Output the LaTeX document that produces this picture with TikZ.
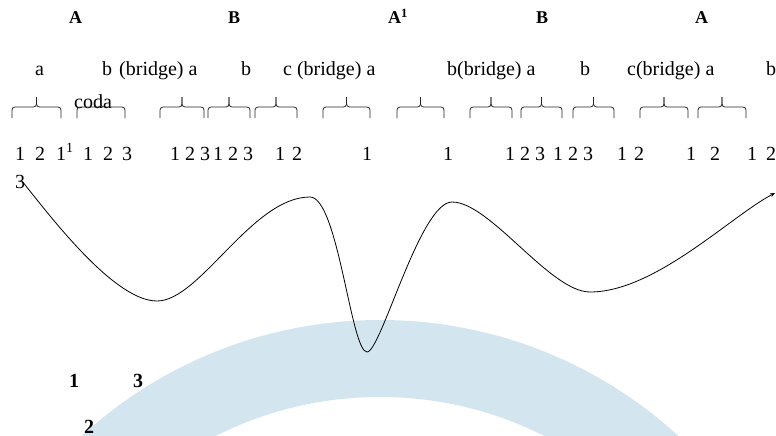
\documentclass[tikz,border=0pt]{standalone}
\usepackage{fontspec}
\setmainfont{Liberation Serif}
\usetikzlibrary{arrows.meta}
\definecolor{bandblue}{RGB}{211,230,240}
\tikzset{
  reg/.style={inner sep=0pt, anchor=base west, font=\fontsize{20}{24}\selectfont},
  bld/.style={inner sep=0pt, anchor=base west, font=\fontsize{18}{22}\selectfont\bfseries},
  bldbig/.style={inner sep=0pt, anchor=base west, font=\fontsize{20}{24}\selectfont\bfseries},
  bracestyle/.style={draw=black!85, line width=0.8pt, rounded corners=3pt},
  wave/.style={draw=black, line width=0.8pt, -{Stealth[length=5pt,width=4pt]}}
}
\begin{document}
\begin{tikzpicture}[x=1pt,y=-1pt]
\useasboundingbox (0,0) rectangle (776,436);
% blue band
\begin{scope}
\clip (0,0) rectangle (776,436);
\fill[bandblue, even odd rule] (380,762) circle[radius=442] (380,762) circle[radius=365];
\end{scope}
% top labels
\node[bld] (tA1) at (69,24) {A};
\node[bld] (tB1) at (228,24) {B};
\node[bld] (tA2) at (388,24) {A\textsuperscript{1}};
\node[bld] (tB2) at (536,24) {B};
\node[bld] (tA3) at (695,24) {A};
% section labels
\node[reg] (s1) at (35,75) {a};
\node[reg] (s2) at (102,75) {b};
\node[reg] (s3) at (119,75) {(bridge) a};
\node[reg] (s4) at (241,75) {b};
\node[reg] (s5) at (283,75) {c (bridge) a};
\node[reg] (s6) at (447,75) {b(bridge) a};
\node[reg] (s7) at (580,75) {b};
\node[reg] (s8) at (627,75) {c(bridge) a};
\node[reg] (s9) at (766,75) {b};
\node[reg] (coda) at (74,108) {coda};
% braces
\foreach \a/\b in {12/61,77/125,160/204,208/250,255/297,323/370,397/444,470/512,521/562,573/614,640/688,698/746}{
  \pgfmathsetmacro{\m}{(\a+\b)/2}
  \draw[bracestyle] (\a,118) -- (\a,107) -- (\m,107) -- (\m,97);
  \draw[bracestyle] (\b,118) -- (\b,107) -- (\m,107) -- (\m,97);
}
% numbers
\node[reg] (n1) at (15,160) {1};
\node[reg] (n2) at (35,160) {2};
\node[reg] (n3) at (56,160) {1\textsuperscript{1}};
\node[reg] (n4) at (83,160) {1};
\node[reg] (n5) at (103,160) {2};
\node[reg] (n6) at (122,160) {3};
\node[reg] (n7) at (170,160) {1 2 3};
\node[reg] (n8) at (213,160) {1 2 3};
\node[reg] (n9) at (275,160) {1};
\node[reg] (n10) at (292,160) {2};
\node[reg] (n11) at (362,160) {1};
\node[reg] (n12) at (443,160) {1};
\node[reg] (n13) at (505,160) {1 2 3};
\node[reg] (n14) at (553,160) {1 2 3};
\node[reg] (n15) at (617,160) {1};
\node[reg] (n16) at (634,160) {2};
\node[reg] (n17) at (686,160) {1};
\node[reg] (n18) at (710,160) {2};
\node[reg] (n19) at (747,160) {1};
\node[reg] (n20) at (766,160) {2};
\node[reg] (n21) at (15,188) {3};
% bottom labels
\node[bldbig] (b1) at (69,387) {1};
\node[bldbig] (b3) at (133,387) {3};
\node[bldbig] (b2) at (84,433) {2};
% wave
\coordinate (w0) at (22,181);
\coordinate (w1) at (157,301);
\coordinate (w2) at (310,197);
\coordinate (w3) at (367,352);
\coordinate (w4) at (452,202);
\coordinate (w5) at (590,292);
\coordinate (w6) at (775,193);
\draw[wave] (w0) .. controls (53,220) and (115,301) .. (w1)
  .. controls (200,301) and (252,197) .. (w2)
  .. controls (338,197) and (351,352) .. (w3)
  .. controls (381,352) and (420,202) .. (w4)
  .. controls (490,202) and (550,292) .. (w5)
  .. controls (655,292) and (731,216) .. (w6);
\end{tikzpicture}
\end{document}
